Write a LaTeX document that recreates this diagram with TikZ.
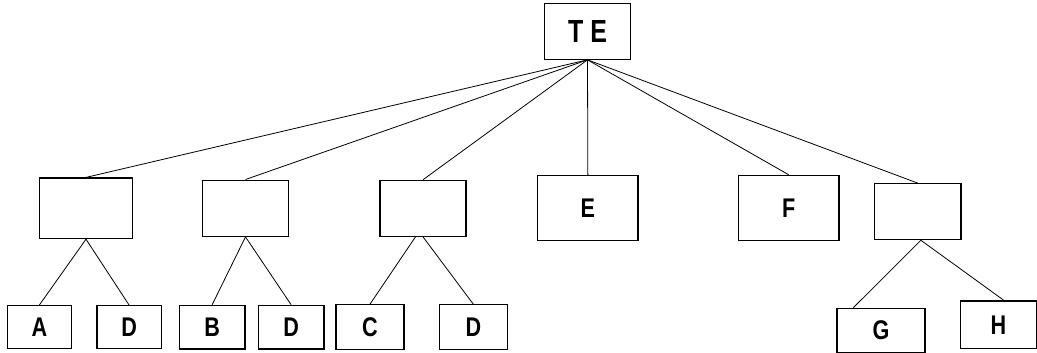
\documentclass[tikz,border=0pt]{standalone}
\usepackage{fontspec}
\newfontfamily\lblfont[FakeStretch=0.8]{Liberation Sans}
\newfontfamily\rootfont[FakeStretch=0.78]{Liberation Sans}
\begin{document}
\begin{tikzpicture}[x=1pt,y=-1pt,
  box/.style={draw, line width=1.1pt, rectangle, inner sep=0pt,
    font=\lblfont\bfseries\fontsize{27}{27}\selectfont,
    text height=19pt, text depth=0pt},
  rootbox/.style={box, font=\rootfont\bfseries\fontsize{32}{32}\selectfont,
    text height=23pt},
  link/.style={line width=0.8pt}]
\useasboundingbox (0,0) rectangle (1037,353);
% root
\node[rootbox, minimum width=86.4pt, minimum height=56pt] (te) at (587.5,31.3) {T E};
% first level
\node[box, minimum width=93.4pt, minimum height=60.7pt] (g1) at (86,208.3) {};
\node[box, minimum width=86.4pt, minimum height=56.3pt] (g2) at (245.5,208.2) {};
\node[box, minimum width=86pt, minimum height=56pt] (g3) at (423,208.3) {};
\node[box, minimum width=100.3pt, minimum height=65pt] (e) at (587.85,208.2) {E};
\node[box, minimum width=100.7pt, minimum height=65.4pt] (f) at (788.65,208) {F};
\node[box, minimum width=86.3pt, minimum height=56pt] (g6) at (917.85,211.7) {};
% leaves
\node[box, minimum width=64pt, minimum height=42.6pt] (a) at (39.3,327) {A};
\node[box, minimum width=64.3pt, minimum height=42.6pt] (d1) at (129.15,327) {D};
\node[box, minimum width=65.7pt, minimum height=43.7pt] (b) at (212.15,327.15) {B};
\node[box, minimum width=65.7pt, minimum height=43.7pt] (d2) at (291.15,327.15) {D};
\node[box, minimum width=68pt, minimum height=44.6pt] (c) at (370,327) {C};
\node[box, minimum width=68pt, minimum height=44.6pt] (d3) at (473.3,327) {D};
\node[box, minimum width=88pt, minimum height=44pt] (g) at (881,330.3) {G};
\node[box, minimum width=76pt, minimum height=47.3pt] (h) at (998.5,324.65) {H};
% connectors from the root
\foreach \n in {g1,g2,g3,e,f,g6}
  \draw[link] (te.south) -- (\n.north);
% connectors to the leaves
\draw[link] (g1.south) -- (a.north);
\draw[link] (g1.south) -- (d1.north);
\draw[link] (g2.south) -- (b.north);
\draw[link] (g2.south) -- (d2.north);
\draw[link] ([xshift=-7.5pt]g3.south) -- (c.north);
\draw[link] (g3.south) -- (d3.north);
\draw[link] ([xshift=3pt]g6.south) -- ([xshift=-27.7pt]g.north);
\draw[link] ([xshift=3pt]g6.south) -- ([xshift=5.5pt]h.north);
\end{tikzpicture}
\end{document}
